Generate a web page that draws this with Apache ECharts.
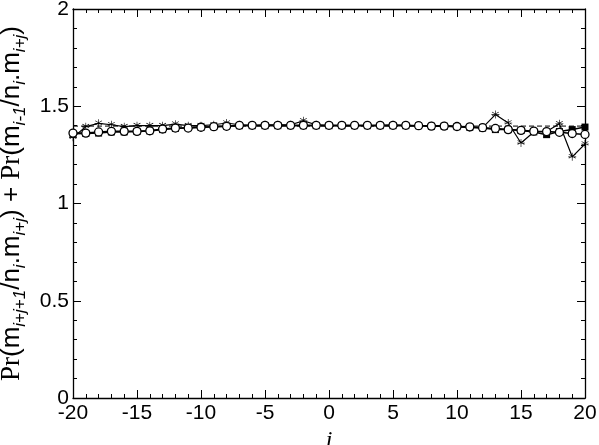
<!DOCTYPE html>
<html>
<head>
<meta charset="utf-8">
<script src="https://cdn.jsdelivr.net/npm/echarts@6/dist/echarts.min.js"></script>
<style>html,body{margin:0;padding:0;background:#fff}#c{width:599px;height:445px}</style>
</head>
<body>
<div id="c"></div>
<script>
var iValues = [-20,-19,-18,-17,-16,-15,-14,-13,-12,-11,-10,-9,-8,-7,-6,-5,-4,-3,-2,-1,0,1,2,3,4,5,6,7,8,9,10,11,12,13,14,15,16,17,18,19,20];
var starValues = [1.34,1.395,1.412,1.405,1.395,1.40,1.40,1.40,1.408,1.40,1.40,1.405,1.414,1.405,1.40,1.405,1.405,1.405,1.425,1.405,1.40,1.40,1.40,1.40,1.40,1.405,1.40,1.40,1.40,1.40,1.395,1.39,1.39,1.457,1.414,1.311,1.368,1.37,1.41,1.24,1.306];
var squareValues = [1.358,1.36,1.362,1.368,1.368,1.37,1.373,1.38,1.386,1.39,1.392,1.395,1.397,1.40,1.40,1.40,1.40,1.40,1.40,1.40,1.40,1.40,1.40,1.40,1.40,1.40,1.40,1.40,1.397,1.397,1.395,1.392,1.388,1.38,1.38,1.375,1.368,1.354,1.37,1.38,1.393];
var circleValues = [1.362,1.362,1.368,1.371,1.371,1.371,1.374,1.383,1.388,1.388,1.392,1.395,1.397,1.402,1.402,1.402,1.402,1.402,1.402,1.402,1.402,1.402,1.402,1.402,1.402,1.402,1.402,1.40,1.398,1.398,1.396,1.394,1.39,1.386,1.38,1.376,1.372,1.37,1.366,1.36,1.355];
var dashedX = [-20, 20];
var dashedValues = [1.398, 1.398];
var xTicks = [-20,-15,-10,-5,0,5,10,15,20];
var yTicks = [0,0.5,1,1.5,2];

function pairs(xs, ys){ return xs.map(function(x,k){ return [x, ys[k]]; }); }

var asterisk = 'path://M9.2,0h1.6v20h-1.6z M1.1,4.3l0.8,-1.4l17,9.8l-0.8,1.4z M18.1,2.9l0.8,1.4l-17,9.8l-0.8,-1.4z M0,9.2h20v1.6h-20z';
var sans = '"Liberation Sans", Arial, Helvetica, sans-serif';
var serif = '"Liberation Serif", "Times New Roman", serif';

var chart = echarts.init(document.getElementById('c'), null, {renderer:'canvas'});
function axisLine(){ return {show:true, onZero:false, lineStyle:{color:'#000', width:1.3}}; }
var tick = {show:true, inside:true, length:8, lineStyle:{color:'#000'}};
var minor = {show:true, splitNumber:5, length:4, lineStyle:{color:'#000'}};
var rich = {
  s:{fontFamily:serif, fontSize:27, lineHeight:34, color:'#000'},
  n:{fontFamily:sans, fontSize:26, lineHeight:34, color:'#000'},
  sub:{fontFamily:sans, fontStyle:'italic', fontSize:17, lineHeight:17, verticalAlign:'bottom', color:'#000'}
};
var yName = '{s|Pr}{n|(m}{sub|i+j+1}{n|/n}{sub|i}{n|.m}{sub|i+j}{n|) + }{s|Pr}{n|(m}{sub|i-1}{n|/n}{sub|i}{n|.m}{sub|i+j}{n|)}';

chart.setOption({
  animation:false,
  backgroundColor:'#fff',
  grid:{left:73, right:14, top:9, bottom:47, containLabel:false, outerBoundsMode:'none'},
  xAxis:[
    {
      type:'value', min:-20, max:20, interval:5, position:'bottom',
      axisLine:axisLine(), splitLine:{show:false},
      axisTick:tick, minorTick:minor,
      axisLabel:{show:true, margin:5, fontFamily:sans, fontSize:21, color:'#000',
        formatter:function(v){ return xTicks.indexOf(v)>=0 ? String(v) : ''; }},
      name:'i', nameLocation:'middle', nameGap:27,
      nameTextStyle:{fontFamily:serif, fontStyle:'italic', fontSize:24, color:'#000'}
    },
    {
      type:'value', min:-20, max:20, interval:5, position:'top',
      axisLine:axisLine(), splitLine:{show:false},
      axisTick:tick, minorTick:minor, axisLabel:{show:false}
    }
  ],
  yAxis:[
    {
      type:'value', min:0, max:2, interval:0.5, position:'left',
      axisLine:axisLine(), splitLine:{show:false},
      axisTick:tick, minorTick:minor,
      axisLabel:{show:true, margin:4, fontFamily:sans, fontSize:21, color:'#000',
        formatter:function(v){ return yTicks.indexOf(v)>=0 ? String(v) : ''; }},
      name:yName, nameLocation:'middle', nameGap:41, nameRotate:90,
      nameTextStyle:{rich:rich}
    },
    {
      type:'value', min:0, max:2, interval:0.5, position:'right',
      axisLine:axisLine(), splitLine:{show:false},
      axisTick:tick, minorTick:minor, axisLabel:{show:false}
    }
  ],
  series:[
    {type:'line', data:pairs(dashedX, dashedValues), showSymbol:false, symbol:'none',
      lineStyle:{color:'#000', width:1, type:[5,3]}, z:1},
    {type:'line', data:pairs(iValues, starValues), symbol:asterisk, symbolSize:8,
      itemStyle:{color:'#000'}, lineStyle:{color:'#000', width:1.2}, z:2},
    {type:'line', data:pairs(iValues, squareValues), symbol:'rect', symbolSize:7,
      itemStyle:{color:'#000'}, lineStyle:{color:'#000', width:1.5}, z:3},
    {type:'line', data:pairs(iValues, circleValues), symbol:'circle', symbolSize:8,
      itemStyle:{color:'#fff', borderColor:'#000', borderWidth:1.3}, lineStyle:{color:'#000', width:1.5}, z:4}
  ]
});
</script>
</body>
</html>
